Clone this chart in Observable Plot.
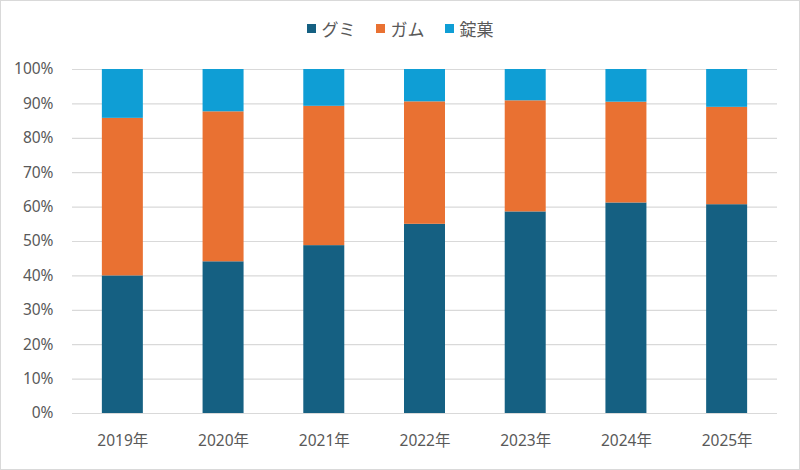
<!DOCTYPE html>
<html>
<head>
<meta charset="utf-8">
<script src="https://cdn.jsdelivr.net/npm/d3@7"></script>
<script src="https://cdn.jsdelivr.net/npm/@observablehq/plot@0.6"></script>
<style>
  html, body { margin: 0; padding: 0; background: #fff; }
  #frame { width: 800px; height: 470px; box-sizing: border-box; border: 1px solid #d9d9d9; position: relative; overflow: hidden;
    font-family: "Noto Sans CJK JP", "Noto Sans", sans-serif; }
  #legend { height: 53px; display: flex; justify-content: center; align-items: center; gap: 20px; padding-top: 1px; box-sizing: border-box;
    font-size: 17px; color: #595959; }
  .item { display: flex; align-items: center; gap: 6px; }
  .sw { width: 9px; height: 9px; display: inline-block; }
  #chart svg { display: block; }
</style>
</head>
<body>
<div id="frame">
  <div id="legend"></div>
  <div id="chart"></div>
</div>
<script>
const years = ["2019年", "2020年", "2021年", "2022年", "2023年", "2024年", "2025年"];
const series = ["グミ", "ガム", "錠菓"];
const colors = ["#156082", "#E97132", "#0F9ED5"];
const gummy = [40.0, 44.1, 48.8, 55.0, 58.6, 61.2, 60.7];
const gum = [45.8, 43.6, 40.5, 35.6, 32.3, 29.3, 28.3];
const tablet = [14.2, 12.3, 10.7, 9.4, 9.1, 9.5, 11.0];
const yTicks = [0, 0.1, 0.2, 0.3, 0.4, 0.5, 0.6, 0.7, 0.8, 0.9, 1.0];

const values = [gummy, gum, tablet];
const data = [];
years.forEach((y, i) => {
  series.forEach((s, j) => data.push({year: y, series: s, value: values[j][i]}));
});

const legend = document.getElementById("legend");
series.forEach((s, j) => {
  const it = document.createElement("div");
  it.className = "item";
  it.innerHTML = `<span class="sw" style="background:${colors[j]}"></span><span>${s}</span>`;
  legend.appendChild(it);
});

const pct = d => Math.round(d * 100) + "%";
const chart = Plot.plot({
  width: 798,
  height: 415,
  marginTop: 15,
  marginBottom: 56,
  marginLeft: 71,
  marginRight: 22,
  style: { fontFamily: "'Noto Sans', 'Noto Sans CJK JP', sans-serif", fontSize: "15.5px", color: "#595959", background: "transparent" },
  x: { domain: years, paddingInner: 0.593, paddingOuter: 0.2965, round: false, label: null },
  y: { domain: [0, 1], label: null },
  color: { domain: series, range: colors },
  marks: [
    Plot.gridY(yTicks, { stroke: "#d9d9d9", strokeOpacity: 1, strokeWidth: 1.2 }),
    Plot.barY(data, Plot.stackY({ offset: "normalize" }, { x: "year", y: "value", fill: "series", order: series })),
    Plot.axisX({ tickSize: 0, tickPadding: 21, fontSize: 15.5, fill: "#595959", label: null }),
    Plot.axisY(yTicks, { tickSize: 0, tickPadding: 19, tickFormat: pct, fontSize: 15.5, fill: "#595959", label: null })
  ]
});
document.getElementById("chart").appendChild(chart);
</script>
</body>
</html>
